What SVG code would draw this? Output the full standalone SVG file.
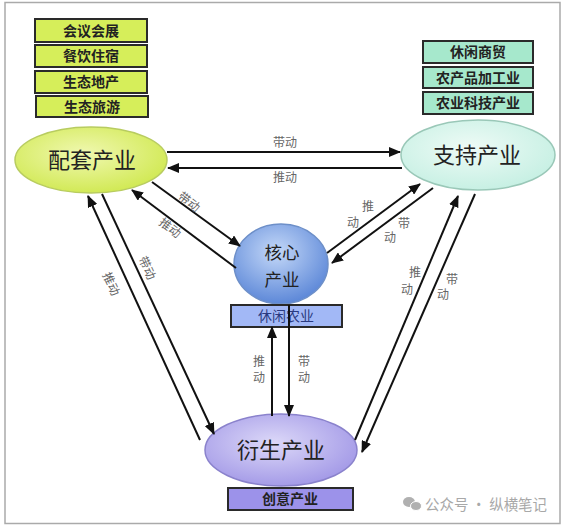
<svg xmlns="http://www.w3.org/2000/svg" width="565" height="530" viewBox="0 0 565 530">
<defs>
<style>
.box{stroke:#2a2a2a;stroke-width:2}
.bt{font-family:"Noto Sans CJK SC","Noto Sans",sans-serif;font-size:14px;font-weight:bold;fill:#222;text-anchor:middle}
.et{font-family:"Noto Sans CJK SC","Noto Sans",sans-serif;font-size:22px;fill:#222;text-anchor:middle}
.lt{font-family:"Noto Sans CJK SC","Noto Sans",sans-serif;font-size:12px;fill:#666;text-anchor:middle}
.cn{stroke:#111;stroke-width:2;fill:none;marker-end:url(#ah)}
.wm{font-family:"Noto Sans CJK SC","Noto Sans",sans-serif;font-size:15px;fill:#a8a8a8}
</style>
<marker id="ah" viewBox="0 0 12 10" refX="11" refY="5" markerWidth="12" markerHeight="10" markerUnits="userSpaceOnUse" orient="auto">
<path d="M0,0 L12,5 L0,10 Z" fill="#111"/>
</marker>
<radialGradient id="gY" cx="0.45" cy="0.4" r="0.65"><stop offset="0" stop-color="#f0f8b0"/><stop offset="1" stop-color="#cfe84e"/></radialGradient>
<radialGradient id="gG" cx="0.45" cy="0.4" r="0.65"><stop offset="0" stop-color="#eefbf6"/><stop offset="1" stop-color="#c4efe2"/></radialGradient>
<radialGradient id="gB" cx="0.45" cy="0.35" r="0.65"><stop offset="0" stop-color="#c4d8f8"/><stop offset="1" stop-color="#5d88d8"/></radialGradient>
<radialGradient id="gP" cx="0.45" cy="0.4" r="0.65"><stop offset="0" stop-color="#dcd8f8"/><stop offset="1" stop-color="#a096e6"/></radialGradient>
</defs>
<rect x="0" y="0" width="565" height="530" fill="#fff"/>
<rect x="5" y="2.5" width="555" height="521" fill="none" stroke="#aaa" stroke-width="1.5"/>

<g id="peitao-list">
<rect class="box" x="35" y="19" width="112" height="23" fill="#d6ee5a"/>
<text class="bt" x="91" y="35.5">会议会展</text>
<rect class="box" x="35" y="45" width="112" height="22" fill="#d6ee5a"/>
<text class="bt" x="91" y="61">餐饮住宿</text>
<rect class="box" x="35" y="71" width="112" height="22" fill="#d6ee5a"/>
<text class="bt" x="91" y="87">生态地产</text>
<rect class="box" x="36" y="96" width="112" height="21" fill="#d6ee5a"/>
<text class="bt" x="92" y="111.5">生态旅游</text>
</g>
<g id="zhichi-list">
<rect class="box" x="423" y="41" width="110" height="22" fill="#a6e8cc"/>
<text class="bt" x="478" y="57">休闲商贸</text>
<rect class="box" x="423" y="67" width="110" height="21" fill="#a6e8cc"/>
<text class="bt" x="478" y="82.5">农产品加工业</text>
<rect class="box" x="423" y="92" width="110" height="22" fill="#a6e8cc"/>
<text class="bt" x="478" y="108">农业科技产业</text>
</g>

<g id="peitao">
<ellipse cx="91" cy="160" rx="76" ry="33" fill="url(#gY)" stroke="#b8cc60" stroke-width="1.5"/>
<text class="et" x="92" y="167.5">配套产业</text>
</g>
<g id="zhichi">
<ellipse cx="478" cy="155" rx="77" ry="35" fill="url(#gG)" stroke="#9ac8b8" stroke-width="1.5"/>
<text class="et" x="477" y="162.5">支持产业</text>
</g>
<g id="hexin">
<ellipse cx="281" cy="264" rx="47" ry="40" fill="url(#gB)" stroke="#6d8fc8" stroke-width="1.5"/>
<text class="et" style="font-size:17.5px" x="282" y="259">核心</text>
<text class="et" style="font-size:17.5px" x="282" y="285.5">产业</text>
</g>
<g id="xiuxian">
<rect class="box" x="231" y="305" width="111" height="22" fill="#a2b8f6"/>
<text class="bt" x="286" y="321" style="fill:#2a3a80;font-weight:normal">休闲农业</text>
</g>
<g id="yansheng">
<ellipse cx="281" cy="450" rx="76" ry="36" fill="url(#gP)" stroke="#8a82cc" stroke-width="1.5"/>
<text class="et" x="281" y="457.5">衍生产业</text>
</g>
<g id="chuangyi">
<rect class="box" x="228" y="488" width="125" height="22" fill="#9c92ea"/>
<text class="bt" x="290" y="504">创意产业</text>
</g>

<g id="connectors">
<line class="cn" x1="167" y1="152" x2="400" y2="152"/>
<line class="cn" x1="402" y1="168" x2="168" y2="168"/>
<line class="cn" x1="152" y1="182" x2="240" y2="246"/>
<line class="cn" x1="236" y1="268" x2="132" y2="190"/>
<line class="cn" x1="200" y1="440" x2="88" y2="196"/>
<line class="cn" x1="102" y1="194" x2="214" y2="434"/>
<line class="cn" x1="327" y1="253" x2="420" y2="184"/>
<line class="cn" x1="433" y1="188" x2="332" y2="263"/>
<line class="cn" x1="355" y1="440" x2="458" y2="196"/>
<line class="cn" x1="475" y1="194" x2="362" y2="452"/>
<line class="cn" x1="272" y1="416" x2="272" y2="327"/>
<line class="cn" x1="289" y1="305" x2="289" y2="416"/>
</g>

<g id="labels">
<text class="lt" x="285" y="147">带动</text>
<text class="lt" x="285" y="182">推动</text>
<text class="lt" transform="translate(189,202) rotate(37)" y="4">带动</text>
<text class="lt" transform="translate(170,228) rotate(37)" y="4">推动</text>
<text class="lt" transform="translate(147,268) rotate(65)" y="4">带动</text>
<text class="lt" transform="translate(111,284) rotate(65)" y="4">推动</text>
<text class="lt" x="368" y="211">推</text>
<text class="lt" x="353" y="227">动</text>
<text class="lt" x="404" y="228">带</text>
<text class="lt" x="390" y="242">动</text>
<text class="lt" x="415" y="277">推</text>
<text class="lt" x="407" y="294">动</text>
<text class="lt" x="452" y="284">带</text>
<text class="lt" x="443" y="299">动</text>
<text class="lt" x="259" y="366">推</text>
<text class="lt" x="259" y="382">动</text>
<text class="lt" x="304" y="366">带</text>
<text class="lt" x="304" y="382">动</text>
</g>

<g id="watermark">
<ellipse cx="409" cy="502" rx="6" ry="5" fill="#b0b0b0"/>
<ellipse cx="416" cy="506" rx="5.5" ry="4.5" fill="#b0b0b0" stroke="#fff" stroke-width="1"/>
<text class="wm" x="425" y="510" textLength="122" lengthAdjust="spacingAndGlyphs">公众号 · 纵横笔记</text>
</g>
</svg>
